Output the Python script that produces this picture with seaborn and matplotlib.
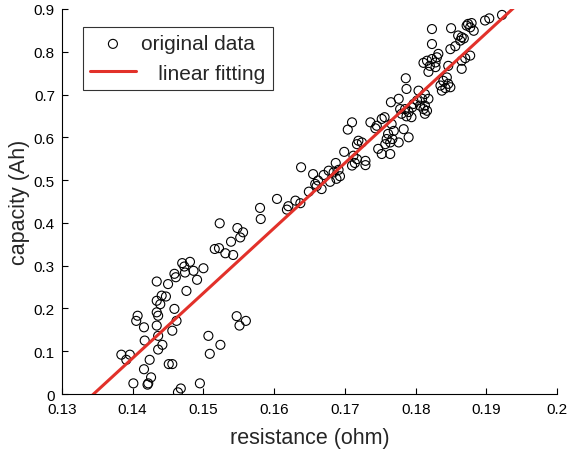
import numpy as np
import pandas as pd
import matplotlib
matplotlib.use("Agg")
import matplotlib.pyplot as plt
from matplotlib.ticker import FuncFormatter
import seaborn as sns

# ============================================
# DADOS
# ============================================

resistencia = [
    0.1476, 0.1434, 0.1441, 0.1447, 0.1439, 0.1407, 0.1405, 0.1434, 0.1436, 0.1459,
    0.1416, 0.1434, 0.1462, 0.1456, 0.1436, 0.1417, 0.1507, 0.1442, 0.1436, 0.1384,
    0.1396, 0.1391, 0.1509, 0.1424, 0.1451, 0.1456, 0.1416, 0.1426, 0.1401, 0.1422,
    0.1421, 0.1495, 0.1468, 0.1464,
    0.1470, 0.1481, 0.1473, 0.1459, 0.1461, 0.1486, 0.1500, 0.1474, 0.1434, 0.1450,
    0.1491,
    0.1638, 0.1655, 0.1658, 0.1649, 0.1604, 0.1580, 0.1581, 0.1630, 0.1620, 0.1618,
    0.1637, 0.1523, 0.1548, 0.1556, 0.1552, 0.1539, 0.1516, 0.1522, 0.1531, 0.1542,
    0.1547, 0.1551, 0.1560, 0.1524,
    0.1765, 0.1776, 0.1778, 0.1710, 0.1704, 0.1736, 0.1745, 0.1752, 0.1756, 0.1743,
    0.1783, 0.1769, 0.1761, 0.1759, 0.1767, 0.1764, 0.1757, 0.1776, 0.1719, 0.1724,
    0.1717, 0.1747, 0.1752, 0.1764, 0.1699, 0.1712, 0.1717, 0.1714, 0.1729, 0.1729,
    0.1710, 0.1687, 0.1691, 0.1684, 0.1693, 0.1688, 0.1677, 0.1670, 0.1662, 0.1660,
    0.1667, 0.1679,
    0.1823, 0.1850, 0.1823, 0.1849, 0.1856, 0.1816, 0.1823, 0.1830, 0.1832, 0.1828,
    0.1811, 0.1820, 0.1828, 0.1818, 0.1844, 0.1839, 0.1846, 0.1835, 0.1842, 0.1837,
    0.1849, 0.1786, 0.1787, 0.1804, 0.1813, 0.1818, 0.1809, 0.1802, 0.1797, 0.1806,
    0.1795, 0.1813, 0.1811, 0.1816, 0.1813, 0.1785, 0.1790, 0.1780, 0.1787, 0.1794,
    0.1766, 0.1790,
    0.1922, 0.1898, 0.1904, 0.1874, 0.1879, 0.1877, 0.1882, 0.1872, 0.1860, 0.1865,
    0.1863, 0.1868, 0.1877, 0.1870, 0.1865, 0.1865, 0.1846,
]

capacidade = [
    0.241, 0.218, 0.230, 0.228, 0.210, 0.183, 0.171, 0.191, 0.183, 0.199,
    0.156, 0.160, 0.171, 0.148, 0.136, 0.125, 0.136, 0.115, 0.104, 0.092,
    0.092, 0.080, 0.094, 0.080, 0.070, 0.070, 0.058, 0.039, 0.025, 0.025,
    0.022, 0.025, 0.013, 0.004,
    0.306, 0.309, 0.298, 0.281, 0.273, 0.288, 0.294, 0.284, 0.263, 0.257,
    0.267,
    0.530, 0.514, 0.491, 0.473, 0.456, 0.435, 0.409, 0.452, 0.439, 0.431,
    0.446, 0.399, 0.388, 0.378, 0.366, 0.356, 0.339, 0.341, 0.329, 0.325,
    0.182, 0.160, 0.171, 0.115,
    0.682, 0.690, 0.666, 0.635, 0.618, 0.635, 0.627, 0.643, 0.647, 0.621,
    0.619, 0.615, 0.608, 0.596, 0.596, 0.588, 0.584, 0.588, 0.592, 0.588,
    0.584, 0.573, 0.561, 0.561, 0.566, 0.557, 0.549, 0.540, 0.545, 0.535,
    0.534, 0.540, 0.524, 0.518, 0.509, 0.503, 0.522, 0.512, 0.499, 0.486,
    0.479, 0.496,
    0.853, 0.855, 0.818, 0.806, 0.813, 0.779, 0.783, 0.787, 0.795, 0.775,
    0.774, 0.767, 0.764, 0.753, 0.740, 0.732, 0.725, 0.721, 0.715, 0.709,
    0.717, 0.738, 0.713, 0.709, 0.701, 0.690, 0.690, 0.686, 0.678, 0.674,
    0.670, 0.674, 0.666, 0.662, 0.655, 0.666, 0.659, 0.655, 0.649, 0.647,
    0.631, 0.600,
    0.886, 0.873, 0.878, 0.865, 0.867, 0.857, 0.849, 0.861, 0.838, 0.834,
    0.826, 0.831, 0.791, 0.785, 0.779, 0.760, 0.767,
]

# reta ajustada (coeficientes)
inclinacao = 15.2
intercepto = -2.044
x_reta = [0.13, 0.20]

x_ticks = [0.13, 0.14, 0.15, 0.16, 0.17, 0.18, 0.19, 0.20]
y_ticks = [0, 0.1, 0.2, 0.3, 0.4, 0.5, 0.6, 0.7, 0.8, 0.9]

df = pd.DataFrame({"resistance": resistencia, "capacity": capacidade})
df_reta = pd.DataFrame({"resistance": x_reta})
df_reta["capacity"] = inclinacao * df_reta["resistance"] + intercepto

# ============================================
# GRÁFICO
# ============================================

sns.set_style("ticks")
plt.rcParams["font.family"] = ["Liberation Sans", "DejaVu Sans"]

fig = plt.figure(figsize=(5.68, 4.52), dpi=100)
ax = fig.add_axes([0.109, 0.126, 0.872, 0.852])

VERMELHO = "#e2312a"

sns.scatterplot(data=df, x="resistance", y="capacity", ax=ax,
                marker="o", s=42, facecolor="none", edgecolor="black",
                linewidth=0.8, label="original data", zorder=2)
sns.lineplot(data=df_reta, x="resistance", y="capacity", ax=ax,
             color=VERMELHO, linewidth=2.2, label="   linear fitting", zorder=3)

ax.set_xlim(0.13, 0.20)
ax.set_ylim(0, 0.9)
ax.set_xticks(x_ticks)
ax.set_yticks(y_ticks)
ax.xaxis.set_major_formatter(FuncFormatter(lambda v, p: f"{v:g}"))
ax.yaxis.set_major_formatter(FuncFormatter(lambda v, p: f"{v:g}"))
ax.tick_params(direction="in", length=4, width=0.8, labelsize=11, colors="black")
ax.tick_params(axis="x", pad=6)
ax.tick_params(axis="y", pad=5)

for lado in ["top", "right"]:
    ax.spines[lado].set_visible(False)
for lado in ["left", "bottom"]:
    ax.spines[lado].set_linewidth(0.8)
    ax.spines[lado].set_color("black")

ax.set_xlabel("resistance (ohm)", fontsize=15.5, labelpad=8)
ax.set_ylabel("capacity (Ah)", fontsize=15.5, labelpad=3)

leg = ax.legend(loc="upper left", bbox_to_anchor=(0.042, 0.953),
                fontsize=15, frameon=True, fancybox=False, handlelength=2.2,
                borderpad=0.35, labelspacing=0.5, handletextpad=0.25,
                borderaxespad=0)
leg.get_frame().set_edgecolor("black")
leg.get_frame().set_linewidth(0.8)

plt.savefig("out.png", dpi=100)
plt.close()
